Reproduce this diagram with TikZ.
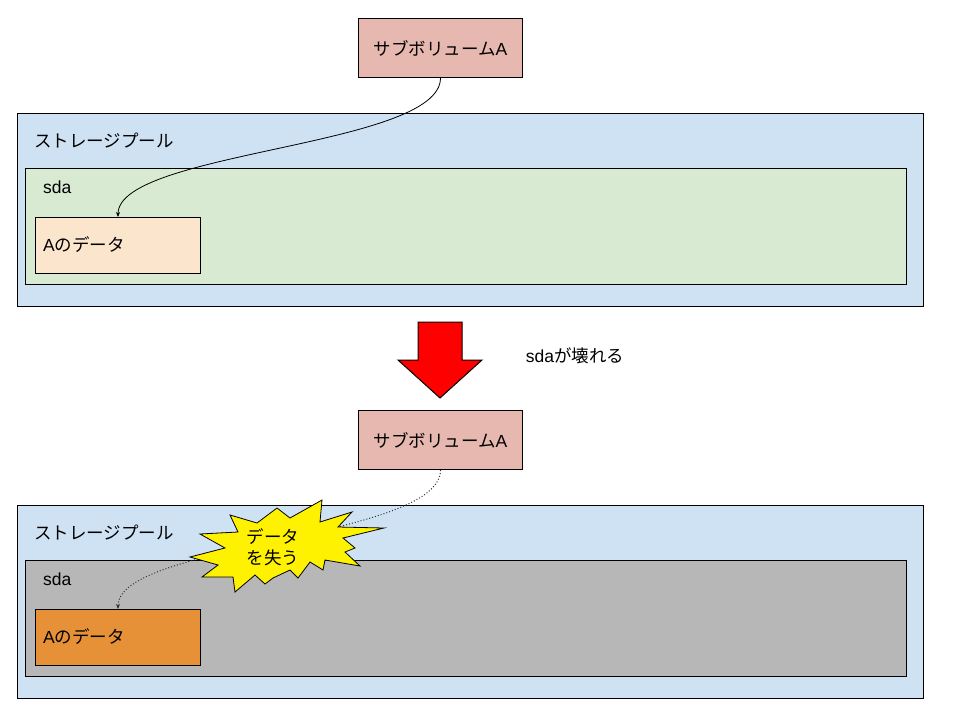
\documentclass[tikz,border=0pt]{standalone}
\usepackage{fontspec}
\setmainfont{Liberation Sans}
\newfontfamily\jp{Noto Sans CJK JP}
\usetikzlibrary{arrows.meta}
\definecolor{subfill}{HTML}{E6B8AF}
\definecolor{poolfill}{HTML}{CFE2F3}
\definecolor{sdafill}{HTML}{D9EAD3}
\definecolor{datafill}{HTML}{FCE5CD}
\definecolor{deadsda}{HTML}{B7B7B7}
\definecolor{lostdata}{HTML}{E69138}
\definecolor{dotgray}{HTML}{333333}
\tikzset{
  box/.style={draw=black, line width=1pt, rectangle, inner sep=0pt, anchor=north west},
  subvol/.style={box, fill=subfill, minimum width=164pt, minimum height=59pt},
  pool/.style={box, fill=poolfill, minimum width=906pt, minimum height=193pt},
  disk/.style={box, minimum width=881pt, minimum height=116pt},
  datab/.style={box, minimum width=165pt, minimum height=56pt},
  lbl/.style={anchor=west, inner sep=0pt, font=\fontsize{17.5}{21}\selectfont},
  txt/.style={font=\fontsize{17.5}{21}\selectfont},
  link/.style={line width=0.8pt, -{Stealth[length=5pt,width=4pt]}},
}
\begin{document}
\begin{tikzpicture}[x=1pt,y=-1pt]
\useasboundingbox (0,0) rectangle (960,720);
% ---------- top ----------
\node[subvol] (subA) at (358,18) {};
\node[txt] (subAt) at (subA.center) {{\jp サブボリューム}A};
\node[pool] (poolA) at (17,113) {};
\node[lbl] (poolAt) at (34,141) {\jp ストレージプール};
\node[disk, fill=sdafill] (sdaA) at (25,168) {};
\node[lbl] (sdaAt) at (43,187) {sda};
\node[datab, fill=datafill] (dataA) at (35,217) {};
\node[lbl] (dataAt) at (43,245) {A{\jp のデータ}};
\draw[link] (subA.south) .. controls +(0,69) and +(0,-66) .. (dataA.north);
% ---------- arrow ----------
\draw[line width=1pt, fill=red] (418,322) -- (462,322) -- (462,360) -- (482,360)
  -- (440,398) -- (398,360) -- (418,360) -- cycle;
\node[txt] (breakt) at (575,356) {sda{\jp が壊れる}};
% ---------- bottom ----------
\node[subvol] (subB) at (358,410) {};
\node[txt] (subBt) at (subB.center) {{\jp サブボリューム}A};
\node[pool] (poolB) at (17,505) {};
\node[lbl] (poolBt) at (34,533) {\jp ストレージプール};
\node[disk, fill=deadsda] (sdaB) at (25,560) {};
\node[lbl] (sdaBt) at (43,579) {sda};
\node[datab, fill=lostdata] (dataB) at (35,609) {};
\node[lbl] (dataBt) at (43,637) {A{\jp のデータ}};
\draw[link, line width=1pt, dotted, draw=dotgray] (subB.south) .. controls +(0,69) and +(0,-66) .. (dataB.north);
% ---------- explosion ----------
\draw[line width=0.8pt, fill=yellow] (322,500) -- (320,522) -- (352,512) -- (338,527)
  -- (384,528) -- (343,538) -- (355,548) -- (345,552) -- (360,566) -- (325,560)
  -- (323,570) -- (310,562) -- (298,578) -- (290,570) -- (273,578) -- (265,584)
  -- (255,575) -- (235,592) -- (233,577) -- (202,577) -- (218,565) -- (190,557)
  -- (225,548) -- (200,534) -- (238,532) -- (230,515) -- (257,523) -- (277,508)
  -- (290,518) -- cycle;
\node[txt, align=center, inner sep=0pt] (lost) at (273,547) {\jp データ\\\jp を失う};
\end{tikzpicture}
\end{document}
